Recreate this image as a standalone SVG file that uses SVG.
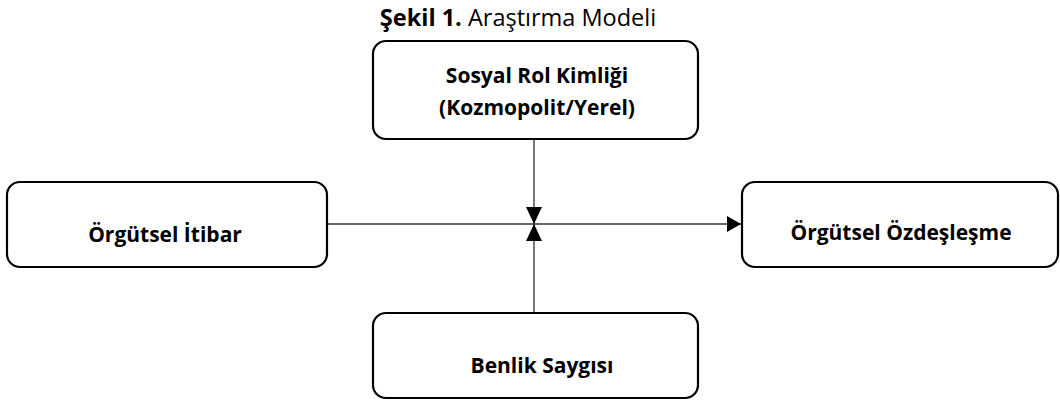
<svg xmlns="http://www.w3.org/2000/svg" width="1060" height="403" viewBox="0 0 1060 403">
<style>
.box{fill:#fff;stroke:#000;stroke-width:2.2}
.lbl{font-family:"Open Sans","Liberation Sans",sans-serif;font-weight:bold;font-size:21px;fill:#000;text-anchor:middle}
.title{font-family:"Open Sans","Liberation Sans",sans-serif;font-size:23.5px;fill:#000;text-anchor:middle}
.conn{stroke:#333;stroke-width:1.3;fill:none}
</style>
<defs>
<marker id="ah" viewBox="0 0 14 16" refX="14" refY="8" markerWidth="14" markerHeight="16" markerUnits="userSpaceOnUse" orient="auto">
<path d="M0,0 L14,8 L0,16 Z" fill="#000"/>
</marker>
<marker id="ahv" viewBox="0 0 17 16" refX="17" refY="8" markerWidth="17" markerHeight="16" markerUnits="userSpaceOnUse" orient="auto">
<path d="M0,0 L17,8 L0,16 Z" fill="#000"/>
</marker>
</defs>
<text class="title" x="518" y="26"><tspan font-weight="bold">Şekil 1.</tspan> Araştırma Modeli</text>
<g id="connectors">
<line class="conn" x1="327" y1="224" x2="741" y2="224" marker-end="url(#ah)"/>
<line class="conn" x1="534" y1="140" x2="534" y2="224" marker-end="url(#ahv)"/>
<line class="conn" x1="534" y1="313" x2="534" y2="224" marker-end="url(#ahv)"/>
</g>
<g id="node-sosyal">
<rect class="box" x="373" y="41" width="325" height="98" rx="13"/>
<text class="lbl" x="537" y="83">Sosyal Rol Kimliği</text>
<text class="lbl" x="537" y="115">(Kozmopolit/Yerel)</text>
</g>
<g id="node-itibar">
<rect class="box" x="7" y="182" width="320" height="85" rx="13"/>
<text class="lbl" x="165" y="242">Örgütsel İtibar</text>
</g>
<g id="node-ozdeslesme">
<rect class="box" x="742" y="182" width="316" height="85" rx="13"/>
<text class="lbl" x="901" y="240">Örgütsel Özdeşleşme</text>
</g>
<g id="node-benlik">
<rect class="box" x="373" y="313" width="325" height="85" rx="13"/>
<text class="lbl" x="542" y="373">Benlik Saygısı</text>
</g>
</svg>
